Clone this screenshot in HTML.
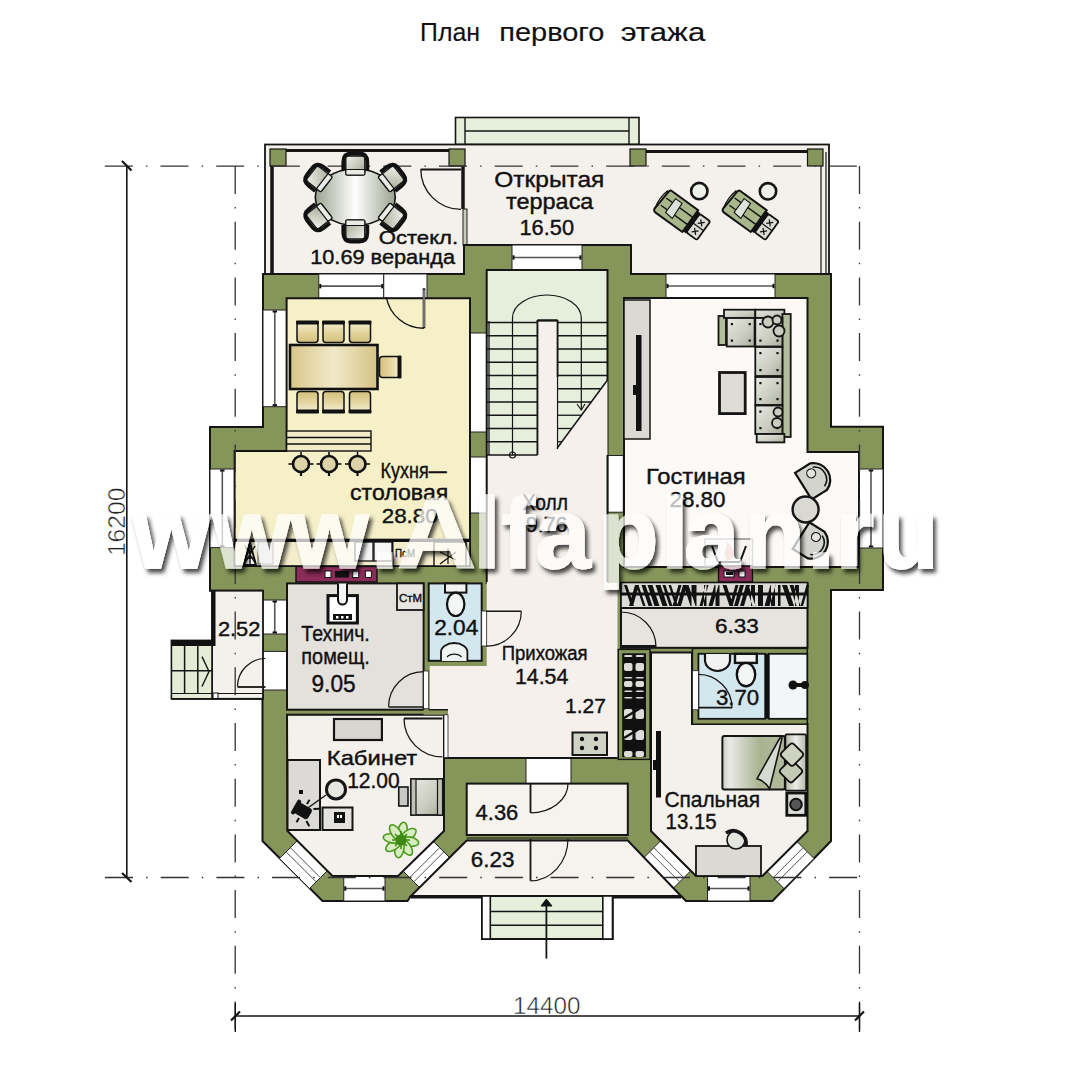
<!DOCTYPE html>
<html><head><meta charset="utf-8"><style>
html,body{margin:0;padding:0;background:#fff;overflow:hidden;}
svg{display:block;font-family:"Liberation Sans",sans-serif;}
</style></head><body>
<svg width="1080" height="1080" viewBox="0 0 1080 1080">
<rect width="1080" height="1080" fill="#fff"/>
<rect x="455.5" y="117.5" width="183.5" height="27.0" fill="#e6eedc" stroke="#151515" stroke-width="1.6" />
<line x1="465" y1="117.5" x2="465" y2="144.5" stroke="#151515" stroke-width="1.4" />
<line x1="629" y1="117.5" x2="629" y2="144.5" stroke="#151515" stroke-width="1.4" />
<line x1="465" y1="131" x2="629" y2="131" stroke="#151515" stroke-width="1.4" />
<rect x="265" y="144.5" width="564" height="129.5" fill="#f4f0eb" stroke="#151515" stroke-width="1.8" />
<line x1="286" y1="150.5" x2="449" y2="150.5" stroke="#151515" stroke-width="3" />
<line x1="272" y1="166" x2="272" y2="274" stroke="#151515" stroke-width="3.5" />
<line x1="463" y1="166" x2="463" y2="209" stroke="#151515" stroke-width="3.5" />
<rect x="463" y="209" width="4" height="36" fill="#c8ccbc" stroke="#222" stroke-width="1" />
<line x1="646" y1="151.5" x2="807.5" y2="151.5" stroke="#151515" stroke-width="3" />
<line x1="821" y1="152" x2="821" y2="274" stroke="#151515" stroke-width="1.2" />
<line x1="826" y1="152" x2="826" y2="274" stroke="#151515" stroke-width="1.2" />
<rect x="270" y="149" width="16" height="17" fill="#86955a" stroke="#151515" stroke-width="1.2" />
<rect x="449" y="149" width="16" height="17" fill="#86955a" stroke="#151515" stroke-width="1.2" />
<rect x="630" y="149" width="16" height="17" fill="#86955a" stroke="#151515" stroke-width="1.2" />
<rect x="807.5" y="149" width="15.5" height="17" fill="#86955a" stroke="#151515" stroke-width="1.2" />
<polygon points="263,274 464,274 464,245 631,245 631,274 831,274 831,426.7 883,426.7 883,590 831,590 831,841 772.5,901 686,901 681,896 411,896 407.5,901 322.5,901 262.5,841 262.5,699 262.5,590.7 210,590.7 210,427 263,427" fill="#86955a" stroke="#151515" stroke-width="2" stroke-linejoin="miter" />
<rect x="318.75" y="274" width="65.0" height="24.3" fill="#fff" stroke="#222" stroke-width="1" />
<line x1="319.75" y1="286.15" x2="382.75" y2="286.15" stroke="#555" stroke-width="1.6" />
<line x1="320.25" y1="283.95" x2="320.25" y2="288.34999999999997" stroke="#111" stroke-width="2" />
<line x1="382.25" y1="283.95" x2="382.25" y2="288.34999999999997" stroke="#111" stroke-width="2" />
<rect x="383.75" y="274" width="43.25" height="24.3" fill="#fff" stroke="#222" stroke-width="1" />
<rect x="263" y="310" width="23.6" height="96.7" fill="#fff" stroke="#222" stroke-width="1" />
<line x1="274.8" y1="311" x2="274.8" y2="405.7" stroke="#555" stroke-width="1.6" />
<line x1="272.6" y1="311.5" x2="277.0" y2="311.5" stroke="#111" stroke-width="2" />
<line x1="272.6" y1="405.2" x2="277.0" y2="405.2" stroke="#111" stroke-width="2" />
<rect x="210" y="469" width="24.6" height="78.6" fill="#fff" stroke="#222" stroke-width="1" />
<line x1="222.3" y1="470" x2="222.3" y2="546.6" stroke="#555" stroke-width="1.6" />
<line x1="220.10000000000002" y1="470.5" x2="224.5" y2="470.5" stroke="#111" stroke-width="2" />
<line x1="220.10000000000002" y1="546.1" x2="224.5" y2="546.1" stroke="#111" stroke-width="2" />
<rect x="512" y="245" width="70" height="25" fill="#fff" stroke="#222" stroke-width="1" />
<line x1="513" y1="257.5" x2="581" y2="257.5" stroke="#555" stroke-width="1.6" />
<line x1="513.5" y1="255.3" x2="513.5" y2="259.7" stroke="#111" stroke-width="2" />
<line x1="580.5" y1="255.3" x2="580.5" y2="259.7" stroke="#111" stroke-width="2" />
<rect x="666" y="274" width="109" height="24" fill="#fff" stroke="#222" stroke-width="1" />
<line x1="667" y1="286.0" x2="774" y2="286.0" stroke="#555" stroke-width="1.6" />
<line x1="667.5" y1="283.8" x2="667.5" y2="288.2" stroke="#111" stroke-width="2" />
<line x1="773.5" y1="283.8" x2="773.5" y2="288.2" stroke="#111" stroke-width="2" />
<rect x="859" y="469" width="24" height="79" fill="#fff" stroke="#222" stroke-width="1" />
<line x1="871.0" y1="470" x2="871.0" y2="547" stroke="#555" stroke-width="1.6" />
<line x1="868.8" y1="470.5" x2="873.2" y2="470.5" stroke="#111" stroke-width="2" />
<line x1="868.8" y1="546.5" x2="873.2" y2="546.5" stroke="#111" stroke-width="2" />
<rect x="470" y="333" width="16.7" height="99" fill="#fff" stroke="#222" stroke-width="1" />
<rect x="470" y="457" width="16.7" height="56" fill="#fff" stroke="#222" stroke-width="1" />
<rect x="607.8" y="455.5" width="15.5" height="56.7" fill="#fff" stroke="#222" stroke-width="1" />
<rect x="262.5" y="600" width="24.5" height="34" fill="#fff" stroke="#222" stroke-width="1" />
<line x1="274.75" y1="601" x2="274.75" y2="633" stroke="#555" stroke-width="1.6" />
<line x1="272.55" y1="601.5" x2="276.95" y2="601.5" stroke="#111" stroke-width="2" />
<line x1="272.55" y1="632.5" x2="276.95" y2="632.5" stroke="#111" stroke-width="2" />
<rect x="262.5" y="651.4" width="24.5" height="38.6" fill="#fff" stroke="#222" stroke-width="1" />
<rect x="526" y="757.5" width="45" height="26.1" fill="#fff" stroke="#222" stroke-width="1" />
<polygon points="297,841 327,871 309.5,888.5 279.5,858.5" fill="#fff" stroke="#222" stroke-width="1" stroke-linejoin="miter" />
<line x1="290.35" y1="847.65" x2="320.35" y2="877.65" stroke="#555" stroke-width="1" />
<line x1="286.15" y1="851.85" x2="316.15" y2="881.85" stroke="#555" stroke-width="1" />
<polygon points="433,841 403,871 420.5,888.5 450.5,858.5" fill="#fff" stroke="#222" stroke-width="1" stroke-linejoin="miter" />
<line x1="439.65" y1="847.65" x2="409.65" y2="877.65" stroke="#555" stroke-width="1" />
<line x1="443.85" y1="851.85" x2="413.85" y2="881.85" stroke="#555" stroke-width="1" />
<rect x="343.75" y="876" width="41.25" height="25" fill="#fff" stroke="#222" stroke-width="1" />
<line x1="344.75" y1="888.5" x2="384" y2="888.5" stroke="#555" stroke-width="1.6" />
<line x1="345.25" y1="886.3" x2="345.25" y2="890.7" stroke="#111" stroke-width="2" />
<line x1="383.5" y1="886.3" x2="383.5" y2="890.7" stroke="#111" stroke-width="2" />
<polygon points="660.5,841 690.5,871 673,888.5 643,858.5" fill="#fff" stroke="#222" stroke-width="1" stroke-linejoin="miter" />
<line x1="653.85" y1="847.65" x2="683.85" y2="877.65" stroke="#555" stroke-width="1" />
<line x1="649.65" y1="851.85" x2="679.65" y2="881.85" stroke="#555" stroke-width="1" />
<polygon points="796.5,841 766.5,871 784,888.5 814,858.5" fill="#fff" stroke="#222" stroke-width="1" stroke-linejoin="miter" />
<line x1="803.15" y1="847.65" x2="773.15" y2="877.65" stroke="#555" stroke-width="1" />
<line x1="807.35" y1="851.85" x2="777.35" y2="881.85" stroke="#555" stroke-width="1" />
<rect x="707.5" y="876" width="42.5" height="25" fill="#fff" stroke="#222" stroke-width="1" />
<line x1="708.5" y1="888.5" x2="749" y2="888.5" stroke="#555" stroke-width="1.6" />
<line x1="709.0" y1="886.3" x2="709.0" y2="890.7" stroke="#111" stroke-width="2" />
<line x1="748.5" y1="886.3" x2="748.5" y2="890.7" stroke="#111" stroke-width="2" />
<polygon points="286.6,298.3 470,298.3 470,566 234.6,566 234.6,451 286.6,451" fill="#f6f0c9" stroke="#151515" stroke-width="2" stroke-linejoin="miter" />
<rect x="486.7" y="270" width="120.8" height="314" fill="#f5f0eb" />
<rect x="486.7" y="270" width="120.8" height="185" fill="#e6eedc" />
<polyline points="486.7,584 486.7,270 607.5,270 607.5,584" fill="none" stroke="#151515" stroke-width="2" />
<polygon points="624,298 807.5,298 807.5,452 859,452 859,567 624,567" fill="#fcf9f6" stroke="#151515" stroke-width="2" stroke-linejoin="miter" />
<rect x="624" y="300" width="26" height="139" fill="#dcd9d4" stroke="#151515" stroke-width="1.5" />
<rect x="287" y="583.4" width="136.6" height="126.3" fill="#e4e1dd" stroke="#151515" stroke-width="2" />
<rect x="428.7" y="583.4" width="53.0" height="77.4" fill="#d3e7ee" stroke="#151515" stroke-width="2" />
<polygon points="429.7,666 486.7,666 486.7,582 607.5,582 607.5,583 617.5,583 617.5,757.5 448,757.5 448,714.8 429.7,714.8" fill="#f5f0eb" />
<line x1="444" y1="758" x2="617.5" y2="758" stroke="#151515" stroke-width="2.2" />
<rect x="621" y="583" width="186.5" height="64.8" fill="#e7e4e0" stroke="#151515" stroke-width="2" />
<rect x="696" y="653" width="69" height="66" fill="#d3e7ee" stroke="#151515" stroke-width="2" />
<rect x="769" y="653" width="37" height="66" fill="#eef4f6" stroke="#151515" stroke-width="2" />
<polygon points="651,652.5 692,652.5 692,724 807.5,724 807.5,831 762.5,876 696,876 651,831" fill="#f4f0eb" stroke="#151515" stroke-width="2" stroke-linejoin="miter" />
<polygon points="287,714.8 444,714.8 444,831 398,876 332.5,876 287.5,831" fill="#f4f0eb" stroke="#151515" stroke-width="2" stroke-linejoin="miter" />
<rect x="466.7" y="783.6" width="161.1" height="51.4" fill="#f6f2ee" stroke="#151515" stroke-width="2" />
<polygon points="466.7,840.5 627.8,840.5 681,896 411,896" fill="#f6f2ee" stroke="#151515" stroke-width="2" stroke-linejoin="miter" />
<rect x="212" y="590.7" width="51" height="108.1" fill="#f4f0eb" stroke="#151515" stroke-width="1.8" />
<rect x="482" y="896" width="130.5" height="43" fill="#e6eedc" stroke="#151515" stroke-width="2" />
<line x1="104.8" y1="166.2" x2="860" y2="166.2" stroke="#333" stroke-width="1.3" stroke-dasharray="28 13.1 1.5 13.1"/>
<line x1="105" y1="877.5" x2="860" y2="877.5" stroke="#333" stroke-width="1.3" stroke-dasharray="28 13.1 1.5 13.1"/>
<line x1="235.2" y1="166" x2="235.2" y2="1032" stroke="#333" stroke-width="1.3" stroke-dasharray="28 13.1 1.5 13.1"/>
<line x1="859.5" y1="166" x2="859.5" y2="1032" stroke="#333" stroke-width="1.3" stroke-dasharray="28 13.1 1.5 13.1"/>
<line x1="126.8" y1="166" x2="126.8" y2="877.5" stroke="#151515" stroke-width="1.6" />
<line x1="122" y1="161" x2="131.5" y2="170.5" stroke="#151515" stroke-width="2.2" />
<line x1="122" y1="873" x2="131.5" y2="882" stroke="#151515" stroke-width="2.2" />
<line x1="235.3" y1="1003" x2="235.3" y2="1032" stroke="#151515" stroke-width="1.4" />
<line x1="859.5" y1="1003" x2="859.5" y2="1032" stroke="#151515" stroke-width="1.4" />
<line x1="235" y1="1016" x2="859.5" y2="1016" stroke="#151515" stroke-width="1.6" />
<line x1="231" y1="1020.5" x2="240" y2="1011.5" stroke="#151515" stroke-width="2.2" />
<line x1="855" y1="1020.5" x2="864" y2="1011.5" stroke="#151515" stroke-width="2.2" />
<defs>
<radialGradient id="gOval" cx="50%" cy="45%" r="60%"><stop offset="0" stop-color="#ffffff"/><stop offset="0.55" stop-color="#e3e7da"/><stop offset="1" stop-color="#9fa88f"/></radialGradient>
<linearGradient id="gChair" x1="0" y1="0" x2="1" y2="1"><stop offset="0" stop-color="#f2f3ee"/><stop offset="1" stop-color="#9ea48e"/></linearGradient>
<linearGradient id="gTan" x1="0" y1="0" x2="0" y2="1"><stop offset="0" stop-color="#f4edd0"/><stop offset="0.5" stop-color="#e2d49c"/><stop offset="1" stop-color="#d4c07c"/></linearGradient>
<linearGradient id="gTanH" x1="0" y1="0" x2="1" y2="0"><stop offset="0" stop-color="#d9c68a"/><stop offset="0.5" stop-color="#f1e9c9"/><stop offset="1" stop-color="#d5c283"/></linearGradient>
<linearGradient id="gSofa" x1="0" y1="0" x2="1" y2="0"><stop offset="0" stop-color="#a9ae99"/><stop offset="0.5" stop-color="#e1e3dc"/><stop offset="1" stop-color="#b9bdab"/></linearGradient>
<linearGradient id="gGreen" x1="0" y1="0" x2="1" y2="0"><stop offset="0" stop-color="#8c9a70"/><stop offset="0.5" stop-color="#b8c2a0"/><stop offset="1" stop-color="#8a986c"/></linearGradient>
<linearGradient id="gBed" x1="0" y1="0" x2="1" y2="0"><stop offset="0" stop-color="#9aa584"/><stop offset="0.45" stop-color="#e9ece2"/><stop offset="1" stop-color="#a6b08f"/></linearGradient>
</defs>
<defs><linearGradient id="gOvalH" x1="0" y1="0" x2="1" y2="0"><stop offset="0" stop-color="#9aa38e"/><stop offset="0.5" stop-color="#ffffff"/><stop offset="1" stop-color="#9aa38e"/></linearGradient></defs>
<ellipse cx="355.3" cy="197.2" rx="40" ry="28.2" fill="url(#gOvalH)" stroke="#111" stroke-width="1.6"/>
<g transform="translate(355.3,166) rotate(0)"><path d="M-12,4 L-12,-4 Q-12,-12.5 -4,-12.5 L4,-12.5 Q12,-12.5 12,-4 L12,4" fill="none" stroke="#111" stroke-width="3.8"/><rect x="-9.5" y="-10" width="19" height="19" rx="2.5" fill="url(#gChair)" stroke="#111" stroke-width="1.4"/><rect x="-9.5" y="3.5" width="19" height="5.5" rx="1" fill="#e9ebe4" stroke="#111" stroke-width="1.2"/></g>
<g transform="translate(355.3,229) rotate(180)"><path d="M-12,4 L-12,-4 Q-12,-12.5 -4,-12.5 L4,-12.5 Q12,-12.5 12,-4 L12,4" fill="none" stroke="#111" stroke-width="3.8"/><rect x="-9.5" y="-10" width="19" height="19" rx="2.5" fill="url(#gChair)" stroke="#111" stroke-width="1.4"/><rect x="-9.5" y="3.5" width="19" height="5.5" rx="1" fill="#e9ebe4" stroke="#111" stroke-width="1.2"/></g>
<g transform="translate(319.5,179) rotate(-52)"><path d="M-12,4 L-12,-4 Q-12,-12.5 -4,-12.5 L4,-12.5 Q12,-12.5 12,-4 L12,4" fill="none" stroke="#111" stroke-width="3.8"/><rect x="-9.5" y="-10" width="19" height="19" rx="2.5" fill="url(#gChair)" stroke="#111" stroke-width="1.4"/><rect x="-9.5" y="3.5" width="19" height="5.5" rx="1" fill="#e9ebe4" stroke="#111" stroke-width="1.2"/></g>
<g transform="translate(391,179) rotate(52)"><path d="M-12,4 L-12,-4 Q-12,-12.5 -4,-12.5 L4,-12.5 Q12,-12.5 12,-4 L12,4" fill="none" stroke="#111" stroke-width="3.8"/><rect x="-9.5" y="-10" width="19" height="19" rx="2.5" fill="url(#gChair)" stroke="#111" stroke-width="1.4"/><rect x="-9.5" y="3.5" width="19" height="5.5" rx="1" fill="#e9ebe4" stroke="#111" stroke-width="1.2"/></g>
<g transform="translate(319.5,216) rotate(-128)"><path d="M-12,4 L-12,-4 Q-12,-12.5 -4,-12.5 L4,-12.5 Q12,-12.5 12,-4 L12,4" fill="none" stroke="#111" stroke-width="3.8"/><rect x="-9.5" y="-10" width="19" height="19" rx="2.5" fill="url(#gChair)" stroke="#111" stroke-width="1.4"/><rect x="-9.5" y="3.5" width="19" height="5.5" rx="1" fill="#e9ebe4" stroke="#111" stroke-width="1.2"/></g>
<g transform="translate(391,216) rotate(128)"><path d="M-12,4 L-12,-4 Q-12,-12.5 -4,-12.5 L4,-12.5 Q12,-12.5 12,-4 L12,4" fill="none" stroke="#111" stroke-width="3.8"/><rect x="-9.5" y="-10" width="19" height="19" rx="2.5" fill="url(#gChair)" stroke="#111" stroke-width="1.4"/><rect x="-9.5" y="3.5" width="19" height="5.5" rx="1" fill="#e9ebe4" stroke="#111" stroke-width="1.2"/></g>
<path d="M420.8,169.2 A40.2,40.2 0 0 0 461,209.4" fill="none" stroke="#151515" stroke-width="1.3" />
<line x1="420.8" y1="169.5" x2="461" y2="169.5" stroke="#151515" stroke-width="2" />
<path d="M386.3,297 A37.5,38 0 0 0 423.8,328.2" fill="none" stroke="#151515" stroke-width="1.4" />
<line x1="424" y1="288.3" x2="424" y2="328.2" stroke="#151515" stroke-width="2.6" />
<line x1="424" y1="290" x2="424" y2="327" stroke="#fff" stroke-width="0.8" />
<g transform="translate(680,213) rotate(36)"><path d="M-20,-13 L13,-13 L13,14 L-20,14 Q-24,14 -23,9 L-22,-8 Q-22,-13 -20,-13Z" fill="#a8b68a" stroke="#111" stroke-width="2"/><line x1="-20" y1="-4" x2="13" y2="-4" stroke="#111" stroke-width="1.4"/><line x1="-20" y1="5" x2="13" y2="5" stroke="#111" stroke-width="1.4"/><path d="M-12,-9 L-4,-9 L-3,9 L-12,8Z" fill="#dfe2da" stroke="#111" stroke-width="1.1"/><path d="M-23,-11 Q-26,0 -23,11" fill="none" stroke="#111" stroke-width="1.2"/><rect x="13" y="-12" width="3.5" height="25" fill="#111"/><rect x="16.5" y="-11" width="13" height="23" rx="2" fill="#dcdcd6" stroke="#111" stroke-width="1.8"/><line x1="16.5" y1="0.5" x2="29.5" y2="0.5" stroke="#111" stroke-width="1.2"/><path d="M20.5,-7 l5,5 m0,-5 l-5,5 M20.5,3.5 l5,5 m0,-5 l-5,5" stroke="#111" stroke-width="1.2"/></g>
<g transform="translate(748.5,213) rotate(36)"><path d="M-20,-13 L13,-13 L13,14 L-20,14 Q-24,14 -23,9 L-22,-8 Q-22,-13 -20,-13Z" fill="#a8b68a" stroke="#111" stroke-width="2"/><line x1="-20" y1="-4" x2="13" y2="-4" stroke="#111" stroke-width="1.4"/><line x1="-20" y1="5" x2="13" y2="5" stroke="#111" stroke-width="1.4"/><path d="M-12,-9 L-4,-9 L-3,9 L-12,8Z" fill="#dfe2da" stroke="#111" stroke-width="1.1"/><path d="M-23,-11 Q-26,0 -23,11" fill="none" stroke="#111" stroke-width="1.2"/><rect x="13" y="-12" width="3.5" height="25" fill="#111"/><rect x="16.5" y="-11" width="13" height="23" rx="2" fill="#dcdcd6" stroke="#111" stroke-width="1.8"/><line x1="16.5" y1="0.5" x2="29.5" y2="0.5" stroke="#111" stroke-width="1.2"/><path d="M20.5,-7 l5,5 m0,-5 l-5,5 M20.5,3.5 l5,5 m0,-5 l-5,5" stroke="#111" stroke-width="1.2"/></g>
<circle cx="699.3" cy="191.1" r="8.2" fill="#eef0ea" stroke="#151515" stroke-width="2.6" />
<circle cx="768" cy="191.3" r="8.2" fill="#eef0ea" stroke="#151515" stroke-width="2.6" />
<g transform="translate(307.5,332.5) rotate(0)"><rect x="-10.5" y="-10" width="21" height="20" rx="3" fill="url(#gTan)" stroke="#111" stroke-width="1.5"/><rect x="-11.5" y="-12" width="23" height="4" rx="1" fill="#111"/></g>
<g transform="translate(307.5,401.5) rotate(180)"><rect x="-10.5" y="-10" width="21" height="20" rx="3" fill="url(#gTan)" stroke="#111" stroke-width="1.5"/><rect x="-11.5" y="-12" width="23" height="4" rx="1" fill="#111"/></g>
<g transform="translate(333.5,332.5) rotate(0)"><rect x="-10.5" y="-10" width="21" height="20" rx="3" fill="url(#gTan)" stroke="#111" stroke-width="1.5"/><rect x="-11.5" y="-12" width="23" height="4" rx="1" fill="#111"/></g>
<g transform="translate(333.5,401.5) rotate(180)"><rect x="-10.5" y="-10" width="21" height="20" rx="3" fill="url(#gTan)" stroke="#111" stroke-width="1.5"/><rect x="-11.5" y="-12" width="23" height="4" rx="1" fill="#111"/></g>
<g transform="translate(360,332.5) rotate(0)"><rect x="-10.5" y="-10" width="21" height="20" rx="3" fill="url(#gTan)" stroke="#111" stroke-width="1.5"/><rect x="-11.5" y="-12" width="23" height="4" rx="1" fill="#111"/></g>
<g transform="translate(360,401.5) rotate(180)"><rect x="-10.5" y="-10" width="21" height="20" rx="3" fill="url(#gTan)" stroke="#111" stroke-width="1.5"/><rect x="-11.5" y="-12" width="23" height="4" rx="1" fill="#111"/></g>
<g transform="translate(389.5,367) rotate(90)"><rect x="-10.5" y="-10" width="21" height="20" rx="3" fill="url(#gTan)" stroke="#111" stroke-width="1.5"/><rect x="-11.5" y="-12" width="23" height="4" rx="1" fill="#111"/></g>
<rect x="290" y="345" width="87.5" height="44" fill="url(#gTanH)" stroke="#111" stroke-width="2.6" />
<rect x="286.6" y="431" width="84.4" height="20" fill="#f2ecc8" stroke="#111" stroke-width="1.4" />
<line x1="286.6" y1="437.5" x2="371" y2="437.5" stroke="#111" stroke-width="1.3" />
<line x1="286.6" y1="444" x2="371" y2="444" stroke="#111" stroke-width="1.3" />
<circle cx="301" cy="464" r="8" fill="#ddd3a6" stroke="#111" stroke-width="2.6" />
<line x1="288.5" y1="464" x2="293" y2="464" stroke="#111" stroke-width="1.6" />
<line x1="309" y1="464" x2="313.5" y2="464" stroke="#111" stroke-width="1.6" />
<line x1="301" y1="472" x2="301" y2="476" stroke="#111" stroke-width="2.2" />
<line x1="301" y1="452" x2="301" y2="456" stroke="#111" stroke-width="1.6" />
<circle cx="329" cy="464" r="8" fill="#ddd3a6" stroke="#111" stroke-width="2.6" />
<line x1="316.5" y1="464" x2="321" y2="464" stroke="#111" stroke-width="1.6" />
<line x1="337" y1="464" x2="341.5" y2="464" stroke="#111" stroke-width="1.6" />
<line x1="329" y1="472" x2="329" y2="476" stroke="#111" stroke-width="2.2" />
<line x1="329" y1="452" x2="329" y2="456" stroke="#111" stroke-width="1.6" />
<circle cx="357.5" cy="464" r="8" fill="#ddd3a6" stroke="#111" stroke-width="2.6" />
<line x1="345.0" y1="464" x2="349.5" y2="464" stroke="#111" stroke-width="1.6" />
<line x1="365.5" y1="464" x2="370.0" y2="464" stroke="#111" stroke-width="1.6" />
<line x1="357.5" y1="472" x2="357.5" y2="476" stroke="#111" stroke-width="2.2" />
<line x1="357.5" y1="452" x2="357.5" y2="456" stroke="#111" stroke-width="1.6" />
<rect x="234.6" y="539.5" width="235.4" height="26.5" fill="#f3edcc" stroke="#111" stroke-width="1.6" />
<line x1="234.6" y1="541" x2="470" y2="541" stroke="#111" stroke-width="2.2" />
<path d="M244,565 L250,543 L256,565 Z" fill="#fff" stroke="#111" stroke-width="2" />
<path d="M246,558 L254,558 M247.5,551 L252.5,551 M245,563 L255,546 M255,563 L245,546 M250,543 L250,565" fill="none" stroke="#111" stroke-width="1.4" />
<rect x="258" y="542" width="15" height="22" fill="#d6d6d6" stroke="#555" stroke-width="1" />
<rect x="355" y="542" width="18" height="19" fill="#f6f6f6" stroke="#111" stroke-width="1.3" />
<rect x="374" y="542" width="18" height="19" fill="#f6f6f6" stroke="#111" stroke-width="1.3" />
<rect x="392" y="542" width="1.5" height="24" fill="#111" />
<text x="395" y="557" font-size="11" textLength="20" lengthAdjust="spacingAndGlyphs" fill="#111" stroke="#111" stroke-width="0.4" font-weight="normal" >ПсМ</text>
<rect x="434" y="542" width="32" height="24" fill="#f3edcc" stroke="#111" stroke-width="1.4" />
<path d="M440,552 l16,8 m-8,-12 l0,16 m-8,0 l16,-12" fill="none" stroke="#111" stroke-width="1.2" />
<rect x="296" y="566.5" width="81" height="15.5" fill="#8b2c58" stroke="#111" stroke-width="1.4" />
<rect x="325" y="571" width="6" height="6.5" fill="#fff" stroke="#111" stroke-width="1" />
<rect x="352.7" y="571" width="6.0" height="6.5" fill="#fff" stroke="#111" stroke-width="1" />
<rect x="365.4" y="571" width="6.0" height="6.5" fill="#fff" stroke="#111" stroke-width="1" />
<rect x="335" y="571" width="14" height="6.5" fill="#111" />
<rect x="487" y="321" width="50.5" height="134" fill="none" />
<line x1="487" y1="322.5" x2="537.5" y2="322.5" stroke="#151515" stroke-width="1.3" />
<line x1="487" y1="335.75" x2="537.5" y2="335.75" stroke="#151515" stroke-width="1.3" />
<line x1="487" y1="349.0" x2="537.5" y2="349.0" stroke="#151515" stroke-width="1.3" />
<line x1="487" y1="362.25" x2="537.5" y2="362.25" stroke="#151515" stroke-width="1.3" />
<line x1="487" y1="375.5" x2="537.5" y2="375.5" stroke="#151515" stroke-width="1.3" />
<line x1="487" y1="388.75" x2="537.5" y2="388.75" stroke="#151515" stroke-width="1.3" />
<line x1="487" y1="402.0" x2="537.5" y2="402.0" stroke="#151515" stroke-width="1.3" />
<line x1="487" y1="415.25" x2="537.5" y2="415.25" stroke="#151515" stroke-width="1.3" />
<line x1="487" y1="428.5" x2="537.5" y2="428.5" stroke="#151515" stroke-width="1.3" />
<line x1="487" y1="441.75" x2="537.5" y2="441.75" stroke="#151515" stroke-width="1.3" />
<line x1="487" y1="455.0" x2="537.5" y2="455.0" stroke="#151515" stroke-width="1.3" />
<line x1="489" y1="321" x2="489" y2="455" stroke="#151515" stroke-width="1.3" />
<line x1="537.5" y1="320" x2="537.5" y2="455" stroke="#151515" stroke-width="1.6" />
<line x1="557.5" y1="320" x2="557.5" y2="377" stroke="#151515" stroke-width="1.6" />
<line x1="537.5" y1="320.5" x2="557.5" y2="320.5" stroke="#151515" stroke-width="2" />
<line x1="557.5" y1="322.5" x2="607.5" y2="322.5" stroke="#151515" stroke-width="1.3" />
<line x1="557.5" y1="335.75" x2="607.5" y2="335.75" stroke="#151515" stroke-width="1.3" />
<line x1="557.5" y1="349.0" x2="607.5" y2="349.0" stroke="#151515" stroke-width="1.3" />
<line x1="557.5" y1="362.25" x2="607.5" y2="362.25" stroke="#151515" stroke-width="1.3" />
<line x1="557.5" y1="375.5" x2="607.5" y2="375.5" stroke="#151515" stroke-width="1.3" />
<polygon points="607.5,380 556.5,449 556.5,455 607.5,455" fill="#f5f0eb" />
<polygon points="557.5,380 607.5,380 556.5,449" fill="#e6eedc" />
<line x1="557.5" y1="388.75" x2="601.0326086956521" y2="388.75" stroke="#151515" stroke-width="1.3" />
<line x1="557.5" y1="402.0" x2="591.2391304347826" y2="402.0" stroke="#151515" stroke-width="1.3" />
<line x1="557.5" y1="415.25" x2="581.445652173913" y2="415.25" stroke="#151515" stroke-width="1.3" />
<line x1="557.5" y1="428.5" x2="571.6521739130435" y2="428.5" stroke="#151515" stroke-width="1.3" />
<line x1="557.5" y1="441.75" x2="561.8586956521739" y2="441.75" stroke="#151515" stroke-width="1.3" />
<line x1="607.5" y1="380" x2="556.5" y2="449" stroke="#151515" stroke-width="1.5" />
<line x1="557.5" y1="377" x2="557.5" y2="449" stroke="#151515" stroke-width="1.3" />
<path d="M512.5,455 L512.5,318 A34.4,23 0 0 1 581.3,318 L581.3,410" fill="none" stroke="#151515" stroke-width="1.2" />
<circle cx="512.5" cy="455" r="3" fill="none" stroke="#151515" stroke-width="1.2" />
<path d="M577,404 L581.3,410 L585,404" fill="none" stroke="#151515" stroke-width="1.2" />
<defs>
<linearGradient id="gCush" x1="0" y1="0" x2="1" y2="1"><stop offset="0" stop-color="#e9eae4"/><stop offset="0.6" stop-color="#c9ccc0"/><stop offset="1" stop-color="#a8ad9a"/></linearGradient>
</defs>
<rect x="538.3" y="321.5" width="18.4" height="133.5" fill="#f5f0eb" />
<line x1="537.5" y1="320" x2="537.5" y2="455" stroke="#151515" stroke-width="1.6" />
<line x1="557.5" y1="320" x2="557.5" y2="377" stroke="#151515" stroke-width="1.6" />
<line x1="537.5" y1="320.5" x2="557.5" y2="320.5" stroke="#151515" stroke-width="2" />
<rect x="718.5" y="316" width="7.5" height="29" fill="#b3bc9c" stroke="#151515" stroke-width="1.8" />
<rect x="724" y="309.7" width="31.3" height="8.3" fill="url(#gCush)" stroke="#151515" stroke-width="1.8" />
<rect x="755.3" y="309.7" width="29.1" height="8.3" fill="url(#gCush)" stroke="#151515" stroke-width="1.8" />
<rect x="782.4" y="314" width="8.3" height="123" fill="#b3bc9c" stroke="#151515" stroke-width="1.8" />
<rect x="726.8" y="318" width="27.8" height="28.5" fill="url(#gCush)" stroke="#151515" stroke-width="1.8" />
<rect x="730.8" y="323" width="2.2" height="2.2" fill="#111" />
<rect x="748.6" y="323" width="2.2" height="2.2" fill="#111" />
<rect x="730.8" y="339.5" width="2.2" height="2.2" fill="#111" />
<rect x="748.6" y="339.5" width="2.2" height="2.2" fill="#111" />
<rect x="755.3" y="318" width="27.1" height="28.5" fill="url(#gCush)" stroke="#151515" stroke-width="1.8" />
<rect x="759.3" y="323" width="2.2" height="2.2" fill="#111" />
<rect x="776.4" y="323" width="2.2" height="2.2" fill="#111" />
<rect x="759.3" y="339.5" width="2.2" height="2.2" fill="#111" />
<rect x="776.4" y="339.5" width="2.2" height="2.2" fill="#111" />
<rect x="755.3" y="347" width="27.1" height="29" fill="url(#gCush)" stroke="#151515" stroke-width="1.8" />
<rect x="759.3" y="352" width="2.2" height="2.2" fill="#111" />
<rect x="776.4" y="352" width="2.2" height="2.2" fill="#111" />
<rect x="759.3" y="369" width="2.2" height="2.2" fill="#111" />
<rect x="776.4" y="369" width="2.2" height="2.2" fill="#111" />
<rect x="755.3" y="377" width="27.1" height="28" fill="url(#gCush)" stroke="#151515" stroke-width="1.8" />
<rect x="759.3" y="382" width="2.2" height="2.2" fill="#111" />
<rect x="776.4" y="382" width="2.2" height="2.2" fill="#111" />
<rect x="759.3" y="398" width="2.2" height="2.2" fill="#111" />
<rect x="776.4" y="398" width="2.2" height="2.2" fill="#111" />
<rect x="755.3" y="405.5" width="27.1" height="28.5" fill="url(#gCush)" stroke="#151515" stroke-width="1.8" />
<rect x="759.3" y="410.5" width="2.2" height="2.2" fill="#111" />
<rect x="776.4" y="410.5" width="2.2" height="2.2" fill="#111" />
<rect x="759.3" y="427" width="2.2" height="2.2" fill="#111" />
<rect x="776.4" y="427" width="2.2" height="2.2" fill="#111" />
<rect x="756.7" y="434" width="27.7" height="8.4" fill="url(#gCush)" stroke="#151515" stroke-width="1.8" />
<circle cx="768" cy="322" r="5.5" fill="#c8cbbd" stroke="#151515" stroke-width="1.8" />
<circle cx="777" cy="320" r="4.5" fill="#c8cbbd" stroke="#151515" stroke-width="1.8" />
<circle cx="779" cy="331" r="5.5" fill="#c8cbbd" stroke="#151515" stroke-width="1.8" />
<circle cx="778" cy="412" r="4.5" fill="#c8cbbd" stroke="#151515" stroke-width="1.8" />
<circle cx="777" cy="423" r="5" fill="#c8cbbd" stroke="#151515" stroke-width="1.8" />
<rect x="719.5" y="372.5" width="25.7" height="41.1" fill="#dedcd7" stroke="#151515" stroke-width="2.8" />
<rect x="636" y="335" width="5.5" height="96" fill="#111" />
<rect x="633" y="385" width="3" height="10" fill="#111" />
<g transform="translate(815.5,476) rotate(-32) scale(1.12)"><path d="M-14,-12 L2,-12 A15,15 0 0 1 2,16 L-14,16 Z" fill="#d4d4cf" stroke="#111" stroke-width="2"/><path d="M2,-8 A11,11 0 0 1 2,12" fill="none" stroke="#111" stroke-width="1.4"/><circle cx="-2" cy="-4" r="4" fill="#e4e4e0" stroke="#111" stroke-width="1"/></g>
<g transform="translate(815.5,542) rotate(32) scale(1.12)"><path d="M-14,-12 L2,-12 A15,15 0 0 1 2,16 L-14,16 Z" fill="#d4d4cf" stroke="#111" stroke-width="2"/><path d="M2,-8 A11,11 0 0 1 2,12" fill="none" stroke="#111" stroke-width="1.4"/><circle cx="-2" cy="-4" r="4" fill="#e4e4e0" stroke="#111" stroke-width="1"/></g>
<circle cx="805.6" cy="509.5" r="13" fill="#d9d8d2" stroke="#151515" stroke-width="2.4" />
<rect x="705" y="539" width="47.5" height="27" fill="#f8f6f3" stroke="#888" stroke-width="1.4" />
<path d="M712,546 L718,562 M746,546 L740,562 M718,562 L740,562" fill="none" stroke="#111" stroke-width="2" />
<path d="M727,560 C722,552 728,548 726,541 C733,546 736,553 731,560 Z" fill="#f2a8a8" stroke="none" stroke-width="0" />
<rect x="718.5" y="566" width="34.0" height="16" fill="#8b2c58" stroke="#111" stroke-width="1.4" />
<rect x="724" y="571" width="10" height="6" fill="#fff" stroke="#111" stroke-width="1" />
<rect x="739" y="571" width="6" height="6" fill="#fff" stroke="#111" stroke-width="1" />
<rect x="726" y="572" width="7" height="3" fill="#111" />
<rect x="621" y="582.5" width="186.5" height="25.5" fill="#dcdad6" stroke="#111" stroke-width="1.6" />
<path d="M624.0,585 L627.0,585 L634.0,606 L631.0,606Z M635.0,585 L639.0,585 L633.0,606 L629.0,606Z M636.0,585 L638.5,585 L645.5,606 L643.0,606Z M641.5,585 L645.5,585 L652.5,606 L648.5,606Z M647.5,585 L652.5,585 L659.5,606 L654.5,606Z M655.5,585 L660.5,585 L667.5,606 L662.5,606Z M662.5,585 L665.5,585 L672.5,606 L669.5,606Z M668.5,585 L671.0,585 L678.0,606 L675.5,606Z M678.5,585 L681.5,585 L675.5,606 L672.5,606Z M683.0,585 L687.0,585 L681.0,606 L677.0,606Z M683.5,585 L688.5,585 L695.5,606 L690.5,606Z M691.5,585 L691.5,606 L696.5,606 L696.5,585Z M705.5,585 L708.5,585 L702.5,606 L699.5,606Z M704.0,585 L704.0,606 L706.5,606 L706.5,585Z M714.5,585 L718.5,585 L712.5,606 L708.5,606Z M715.5,585 L715.5,606 L719.5,606 L719.5,585Z M722.5,585 L726.5,585 L733.5,606 L729.5,606Z M735.5,585 L738.5,585 L732.5,606 L729.5,606Z M740.0,585 L744.0,585 L738.0,606 L734.0,606Z M746.0,585 L750.0,585 L744.0,606 L740.0,606Z M745.5,585 L748.5,585 L755.5,606 L752.5,606Z M751.0,585 L751.0,606 L755.0,606 L755.0,585Z M758.0,585 L758.0,606 L763.0,606 L763.0,585Z M770.5,585 L775.5,585 L769.5,606 L764.5,606Z M771.0,585 L771.0,606 L775.0,606 L775.0,585Z M778.0,585 L778.0,606 L780.5,606 L780.5,585Z M782.0,585 L787.0,585 L794.0,606 L789.0,606Z M789.5,585 L793.5,585 L800.5,606 L796.5,606Z M795.0,585 L795.0,606 L799.0,606 L799.0,585Z M806.5,585 L809.0,585 L803.0,606 L800.5,606Z" fill="#111" stroke="none" stroke-width="0" />
<rect x="621" y="592.5" width="186.5" height="3.0" fill="#111" />
<line x1="621" y1="608" x2="807.5" y2="608" stroke="#151515" stroke-width="2" />
<path d="M621,612 A35,35 0 0 1 656,647" fill="none" stroke="#151515" stroke-width="1.2" />
<line x1="621" y1="646" x2="656" y2="646" stroke="#151515" stroke-width="2" />
<rect x="618.3" y="649.4" width="31.7" height="110.0" fill="#86955a" stroke="#111" stroke-width="1.4" />
<rect x="622.2" y="653.3" width="23.8" height="103.9" fill="#111" />
<rect x="624" y="655" width="8.5" height="2" fill="#dedcd8" rx="2"/>
<rect x="635.5" y="655" width="8.5" height="2" fill="#dedcd8" rx="2"/>
<rect x="624" y="663" width="8.5" height="8" fill="#dedcd8" rx="2"/>
<rect x="635.5" y="663" width="8.5" height="8" fill="#dedcd8" rx="2"/>
<rect x="624" y="677" width="8.5" height="1.5" fill="#dedcd8" rx="2"/>
<rect x="635.5" y="677" width="8.5" height="1.5" fill="#dedcd8" rx="2"/>
<rect x="624" y="681" width="8.5" height="6" fill="#dedcd8" rx="2"/>
<rect x="635.5" y="681" width="8.5" height="6" fill="#dedcd8" rx="2"/>
<rect x="624" y="690.5" width="8.5" height="1.5" fill="#dedcd8" rx="2"/>
<rect x="635.5" y="690.5" width="8.5" height="1.5" fill="#dedcd8" rx="2"/>
<rect x="624" y="697" width="8.5" height="1.5" fill="#dedcd8" rx="2"/>
<rect x="635.5" y="697" width="8.5" height="1.5" fill="#dedcd8" rx="2"/>
<rect x="624" y="709" width="8.5" height="10" fill="#dedcd8" rx="2"/>
<rect x="635.5" y="709" width="8.5" height="10" fill="#dedcd8" rx="2"/>
<rect x="624" y="730" width="8.5" height="10" fill="#dedcd8" rx="2"/>
<rect x="635.5" y="730" width="8.5" height="10" fill="#dedcd8" rx="2"/>
<rect x="624" y="751" width="8.5" height="6" fill="#dedcd8" rx="2"/>
<rect x="635.5" y="751" width="8.5" height="6" fill="#dedcd8" rx="2"/>
<path d="M624,718 L644,706 M624,738 L644,726" fill="none" stroke="#111" stroke-width="2.4" />
<rect x="572.5" y="732.5" width="34.5" height="22.5" fill="#cfd3c4" stroke="#151515" stroke-width="2" />
<circle cx="582" cy="739" r="2.2" fill="#111" stroke="none" stroke-width="0" />
<circle cx="596" cy="739" r="2.2" fill="#111" stroke="none" stroke-width="0" />
<circle cx="582" cy="748" r="2.2" fill="#111" stroke="none" stroke-width="0" />
<circle cx="596" cy="748" r="2.2" fill="#111" stroke="none" stroke-width="0" />
<rect x="445" y="583.4" width="21.4" height="9.2" fill="#f2f2f2" stroke="#151515" stroke-width="2" />
<ellipse cx="455.7" cy="604.3" rx="8.7" ry="11.7" fill="#f4f6f6" stroke="#111" stroke-width="2.2"/>
<path d="M441,661 L441,652 A13.2,9 0 0 1 467.4,652 L467.4,661" fill="#f0f2f2" stroke="#151515" stroke-width="1.8" />
<path d="M447,657 A8.5,6 0 0 1 461.5,657" fill="none" stroke="#151515" stroke-width="1.2" />
<rect x="481.7" y="611" width="5.0" height="35" fill="#fff" stroke="#222" stroke-width="0.8" />
<path d="M486.3,646.2 A35,35 0 0 0 521.3,611.2" fill="none" stroke="#151515" stroke-width="1.2" />
<line x1="486.3" y1="611.2" x2="521.3" y2="611.2" stroke="#151515" stroke-width="1.4" />
<rect x="397" y="583.4" width="26.6" height="26.6" fill="#e8e6e3" stroke="#151515" stroke-width="1.8" />
<text x="399" y="602" font-size="11" textLength="23" lengthAdjust="spacingAndGlyphs" fill="#111" stroke="#111" stroke-width="0.4" font-weight="normal" >СтМ</text>
<rect x="328" y="595.6" width="29.4" height="27.4" fill="#fff" stroke="#111" stroke-width="3" />
<rect x="333" y="614" width="19" height="6" fill="#111" />
<rect x="336" y="616" width="2.5" height="2.5" fill="#fff" />
<rect x="341" y="616" width="2.5" height="2.5" fill="#fff" />
<rect x="346" y="616" width="2.5" height="2.5" fill="#fff" />
<path d="M338,583.4 L338,600 A4.5,4.5 0 0 0 347,600 L347,583.4" fill="#f4f4f4" stroke="#111" stroke-width="2" />
<rect x="423.6" y="671" width="5.1" height="37.7" fill="#fff" stroke="#222" stroke-width="0.8" />
<path d="M388.6,706.7 A35,35 0 0 1 423.6,671.7" fill="none" stroke="#151515" stroke-width="1.2" />
<line x1="388.6" y1="707" x2="423.6" y2="707" stroke="#151515" stroke-width="1.6" />
<path d="M237.5,686.5 A28,28 0 0 1 265.5,658.5" fill="none" stroke="#151515" stroke-width="1.2" />
<line x1="237.5" y1="687" x2="265.5" y2="687" stroke="#151515" stroke-width="1.8" />
<rect x="211.5" y="590.7" width="4.0" height="55.3" fill="#111" />
<rect x="171.4" y="640.4" width="40.6" height="58.4" fill="#e4ecd6" stroke="#151515" stroke-width="1.6" />
<rect x="171.4" y="640.4" width="40.6" height="5.6" fill="#111" />
<line x1="184.6" y1="646" x2="184.6" y2="693" stroke="#151515" stroke-width="1.5" />
<line x1="197.8" y1="646" x2="197.8" y2="693" stroke="#151515" stroke-width="1.5" />
<line x1="171.4" y1="670.7" x2="212" y2="670.7" stroke="#151515" stroke-width="1.5" />
<line x1="171.4" y1="693.5" x2="263" y2="693.5" stroke="#151515" stroke-width="1.2" />
<line x1="171.4" y1="698.8" x2="263" y2="698.8" stroke="#151515" stroke-width="1.8" />
<path d="M202,656.6 L209,671.5 L202,686.5" fill="none" stroke="#151515" stroke-width="1.4" />
<rect x="213" y="693" width="5" height="5.5" fill="#fff" stroke="#111" stroke-width="1" />
<rect x="423.6" y="709.7" width="24.4" height="5.1" fill="#86955a" />
<line x1="428.7" y1="709.7" x2="448" y2="709.7" stroke="#151515" stroke-width="1.4" />
<rect x="334" y="719" width="47.9" height="21" fill="#d9d6d2" stroke="#151515" stroke-width="2.2" />
<rect x="287.5" y="760" width="32.5" height="70" fill="#dcdad6" stroke="#151515" stroke-width="2" />
<g transform="translate(303,811) rotate(30)"><rect x="-8" y="-6" width="16" height="12" rx="3" fill="#111"/><rect x="-10" y="-8" width="4" height="16" rx="1.5" fill="#111"/><path d="M8,-7 l5,-3 M8,7 l5,3 M0,8 l0,5 M0,-8 l0,-5" stroke="#111" stroke-width="2"/></g>
<rect x="299" y="790" width="4" height="4" fill="#111" />
<circle cx="336" cy="789.4" r="9.5" fill="#e6e8e0" stroke="#151515" stroke-width="3" />
<line x1="326" y1="795" x2="305" y2="810" stroke="#151515" stroke-width="1.5" />
<rect x="322.5" y="807.5" width="30.0" height="22.5" fill="#e4e2de" stroke="#151515" stroke-width="2" />
<rect x="334" y="812" width="11" height="11" fill="#111" />
<rect x="337" y="815" width="2" height="3" fill="#fff" />
<rect x="340" y="815" width="2" height="3" fill="#fff" />
<rect x="398.75" y="787" width="9.25" height="19" fill="#c8c8c4" stroke="#151515" stroke-width="1.6" />
<rect x="411" y="779" width="31.5" height="36" fill="url(#gCush)" stroke="#151515" stroke-width="1.8" />
<rect x="411" y="779" width="5" height="36" fill="#c0c2b8" stroke="#151515" stroke-width="1.2" />
<rect x="437.5" y="779" width="5.0" height="36" fill="#c0c2b8" stroke="#151515" stroke-width="1.2" />
<ellipse cx="401" cy="831" rx="4.5" ry="9" fill="#d7ecc0" stroke="#4c9a1c" stroke-width="1.6" transform="rotate(10 401 840)"/>
<ellipse cx="401" cy="831" rx="4.5" ry="9" fill="#d7ecc0" stroke="#4c9a1c" stroke-width="1.6" transform="rotate(55 401 840)"/>
<ellipse cx="401" cy="831" rx="4.5" ry="9" fill="#d7ecc0" stroke="#4c9a1c" stroke-width="1.6" transform="rotate(100 401 840)"/>
<ellipse cx="401" cy="831" rx="4.5" ry="9" fill="#d7ecc0" stroke="#4c9a1c" stroke-width="1.6" transform="rotate(145 401 840)"/>
<ellipse cx="401" cy="831" rx="4.5" ry="9" fill="#d7ecc0" stroke="#4c9a1c" stroke-width="1.6" transform="rotate(190 401 840)"/>
<ellipse cx="401" cy="831" rx="4.5" ry="9" fill="#d7ecc0" stroke="#4c9a1c" stroke-width="1.6" transform="rotate(235 401 840)"/>
<ellipse cx="401" cy="831" rx="4.5" ry="9" fill="#d7ecc0" stroke="#4c9a1c" stroke-width="1.6" transform="rotate(280 401 840)"/>
<ellipse cx="401" cy="831" rx="4.5" ry="9" fill="#d7ecc0" stroke="#4c9a1c" stroke-width="1.6" transform="rotate(325 401 840)"/>
<circle cx="401" cy="840" r="5" fill="#3d8a12" stroke="#2f7a0a" stroke-width="1" />
<path d="M392,840 L410,840 M401,831 L401,849 M395,834 L407,846 M407,834 L395,846" fill="none" stroke="#3d8a12" stroke-width="1.6" />
<rect x="444" y="714.8" width="4" height="42.7" fill="#fff" stroke="#222" stroke-width="0.8" />
<path d="M404,718.5 A38.4,38.4 0 0 0 442.4,756.9" fill="none" stroke="#151515" stroke-width="1.3" />
<line x1="404" y1="718.5" x2="442.4" y2="718.5" stroke="#151515" stroke-width="1.8" />
<rect x="692.4" y="648.4" width="114.9" height="75.8" fill="#86955a" stroke="#151515" stroke-width="1.5" />
<rect x="698.4" y="653.8" width="66.8" height="65.0" fill="#d3e7ee" stroke="#151515" stroke-width="1.8" />
<rect x="768.8" y="653.8" width="38.5" height="65.0" fill="#f2f6f8" stroke="#151515" stroke-width="1.8" />
<rect x="765.2" y="653.8" width="3.6" height="65.0" fill="#111" />
<rect x="692.4" y="670.7" width="6.0" height="39.1" fill="#fff" stroke="#222" stroke-width="0.8" />
<path d="M698.4,674.3 A33.7,33.7 0 0 1 732,708" fill="none" stroke="#151515" stroke-width="1.2" />
<line x1="698.4" y1="707.6" x2="732" y2="707.6" stroke="#151515" stroke-width="1.8" />
<path d="M705,654 L705,660 A12.5,11 0 0 0 730,660 L730,654" fill="#f2f2f2" stroke="#151515" stroke-width="2.2" />
<rect x="735" y="653.8" width="21.8" height="9.1" fill="#f4f4f4" stroke="#151515" stroke-width="2.4" />
<ellipse cx="746" cy="674.6" rx="9.2" ry="11.7" fill="#f4f6f6" stroke="#111" stroke-width="2.4"/>
<circle cx="793" cy="685" r="4.5" fill="#111" stroke="none" stroke-width="0" />
<rect x="797" y="683" width="7" height="4" fill="#111" />
<circle cx="805" cy="685" r="4" fill="#111" stroke="none" stroke-width="0" />
<rect x="656" y="731" width="5" height="66.5" fill="#111" />
<rect x="653" y="760" width="3" height="10" fill="#111" />
<defs><linearGradient id="gBed2" x1="0" y1="0" x2="1" y2="0"><stop offset="0" stop-color="#c9ccc3"/><stop offset="0.12" stop-color="#e9e9e6"/><stop offset="0.6" stop-color="#a9b390"/><stop offset="1" stop-color="#b3bb9c"/></linearGradient><linearGradient id="gHead" x1="0" y1="0" x2="1" y2="0"><stop offset="0" stop-color="#b3b8aa"/><stop offset="0.5" stop-color="#eceee8"/><stop offset="1" stop-color="#b3b8aa"/></linearGradient></defs>
<rect x="722.4" y="736.1" width="62.5" height="53.3" fill="url(#gBed2)" stroke="#151515" stroke-width="2" rx="2"/>
<rect x="785.4" y="734.3" width="20.8" height="56.4" fill="url(#gHead)" stroke="#151515" stroke-width="1.8" rx="1.5"/>
<path d="M757.1,778.7 L779.8,738 L782,738 L769.6,788.9 Q765,781 757.1,778.7 Z" fill="#d7dad1" stroke="#151515" stroke-width="1.6" />
<g transform="translate(791,771.3) rotate(45)"><rect x="-8.7" y="-8.7" width="17.4" height="17.4" rx="3" fill="#c4cab4" stroke="#111" stroke-width="1.8"/></g>
<g transform="translate(792,754.6) rotate(45)"><rect x="-8.7" y="-8.7" width="17.4" height="17.4" rx="3" fill="#cfd4c2" stroke="#111" stroke-width="1.8"/></g>
<rect x="786.8" y="793" width="19.0" height="22.3" fill="#dcdcd8" stroke="#111" stroke-width="2.8" />
<circle cx="796" cy="804.5" r="5.8" fill="#555" stroke="#111" stroke-width="2" />
<rect x="696" y="846" width="65" height="30" fill="#dcd9d5" stroke="#151515" stroke-width="1.8" />
<circle cx="736" cy="840" r="9" fill="#e4e6de" stroke="#151515" stroke-width="1.6" />
<path d="M726,833 A13,13 0 0 1 746,846" fill="none" stroke="#151515" stroke-width="3.5" />
<path d="M530.5,812.8 A37.5,29 0 0 0 568,783.6" fill="none" stroke="#151515" stroke-width="1.2" />
<line x1="530.5" y1="784" x2="530.5" y2="812.8" stroke="#151515" stroke-width="1.8" />
<path d="M530.5,880.8 A37.5,42 0 0 0 568,839" fill="none" stroke="#151515" stroke-width="1.2" />
<line x1="530.5" y1="839" x2="530.5" y2="880.8" stroke="#151515" stroke-width="1.8" />
<line x1="466.7" y1="838" x2="627.8" y2="838" stroke="#151515" stroke-width="1.2" />
<line x1="411" y1="897" x2="482" y2="897" stroke="#151515" stroke-width="3.2" />
<line x1="612.5" y1="897" x2="681" y2="897" stroke="#151515" stroke-width="3.2" />
<rect x="482" y="896" width="130.5" height="43" fill="#e6eedc" stroke="#151515" stroke-width="2" />
<rect x="482" y="896" width="8.3" height="43" fill="#fff" stroke="#151515" stroke-width="1.6" />
<rect x="602.8" y="896" width="9.7" height="43" fill="#fff" stroke="#151515" stroke-width="1.6" />
<line x1="490" y1="911.4" x2="603" y2="911.4" stroke="#151515" stroke-width="1.5" />
<line x1="490" y1="925.3" x2="603" y2="925.3" stroke="#151515" stroke-width="1.5" />
<line x1="546.4" y1="900" x2="546.4" y2="958.6" stroke="#151515" stroke-width="1.8" />
<path d="M541,906 L546.4,899 L552,906 Z" fill="#111" stroke="#151515" stroke-width="1" />
<text x="420.1" y="41" font-size="26" textLength="59.9" lengthAdjust="spacingAndGlyphs" fill="#111" stroke="#111" stroke-width="0.15" font-weight="normal" >План</text>
<text x="499.3" y="41" font-size="26" textLength="105.1" lengthAdjust="spacingAndGlyphs" fill="#111" stroke="#111" stroke-width="0.15" font-weight="normal" >первого</text>
<text x="620.7" y="41" font-size="26" textLength="84.5" lengthAdjust="spacingAndGlyphs" fill="#111" stroke="#111" stroke-width="0.15" font-weight="normal" >этажа</text>
<text x="494.3" y="187" font-size="22.5" textLength="110.1" lengthAdjust="spacingAndGlyphs" fill="#111" stroke="#111" stroke-width="0.4" font-weight="normal" >Открытая</text>
<text x="506" y="209" font-size="22" textLength="87.4" lengthAdjust="spacingAndGlyphs" fill="#111" stroke="#111" stroke-width="0.4" font-weight="normal" >терраса</text>
<text x="519.5" y="235" font-size="22" textLength="54.5" lengthAdjust="spacingAndGlyphs" fill="#111" stroke="#111" stroke-width="0.4" font-weight="normal" >16.50</text>
<text x="378.7" y="244" font-size="18.5" textLength="79.5" lengthAdjust="spacingAndGlyphs" fill="#111" stroke="#111" stroke-width="0.4" font-weight="normal" >Остекл.</text>
<text x="310.2" y="263.7" font-size="19.5" textLength="144.8" lengthAdjust="spacingAndGlyphs" fill="#111" stroke="#111" stroke-width="0.4" font-weight="normal" >10.69 веранда</text>
<text x="380.6" y="478.3" font-size="22" textLength="66.1" lengthAdjust="spacingAndGlyphs" fill="#111" stroke="#111" stroke-width="0.4" font-weight="normal" >Кухня—</text>
<text x="350" y="500" font-size="22" textLength="98.3" lengthAdjust="spacingAndGlyphs" fill="#111" stroke="#111" stroke-width="0.4" font-weight="normal" >столовая</text>
<text x="381.7" y="522.8" font-size="21" textLength="56.1" lengthAdjust="spacingAndGlyphs" fill="#111" stroke="#111" stroke-width="0.4" font-weight="normal" >28.80</text>
<text x="522.5" y="509.6" font-size="21.5" textLength="45.4" lengthAdjust="spacingAndGlyphs" fill="#111" stroke="#111" stroke-width="0.4" font-weight="normal" >Холл</text>
<text x="525.8" y="532" font-size="22" textLength="41.7" lengthAdjust="spacingAndGlyphs" fill="#111" stroke="#111" stroke-width="0.4" font-weight="normal" >9.76</text>
<text x="646" y="483.9" font-size="22.5" textLength="99.6" lengthAdjust="spacingAndGlyphs" fill="#111" stroke="#111" stroke-width="0.4" font-weight="normal" >Гостиная</text>
<text x="669.4" y="506.7" font-size="22" textLength="56.2" lengthAdjust="spacingAndGlyphs" fill="#111" stroke="#111" stroke-width="0.4" font-weight="normal" >28.80</text>
<text x="217.9" y="636" font-size="20.6" textLength="42.5" lengthAdjust="spacingAndGlyphs" fill="#111" stroke="#111" stroke-width="0.4" font-weight="normal" >2.52</text>
<text x="301.3" y="640.7" font-size="22" textLength="68.5" lengthAdjust="spacingAndGlyphs" fill="#111" stroke="#111" stroke-width="0.4" font-weight="normal" >Технич.</text>
<text x="301.3" y="664.3" font-size="22" textLength="68.5" lengthAdjust="spacingAndGlyphs" fill="#111" stroke="#111" stroke-width="0.4" font-weight="normal" >помещ.</text>
<text x="311.5" y="691.9" font-size="23" textLength="44.1" lengthAdjust="spacingAndGlyphs" fill="#111" stroke="#111" stroke-width="0.4" font-weight="normal" >9.05</text>
<text x="434.2" y="635" font-size="22" textLength="44.1" lengthAdjust="spacingAndGlyphs" fill="#111" stroke="#111" stroke-width="0.4" font-weight="normal" >2.04</text>
<text x="501.7" y="660" font-size="19.5" textLength="85.8" lengthAdjust="spacingAndGlyphs" fill="#111" stroke="#111" stroke-width="0.4" font-weight="normal" >Прихожая</text>
<text x="515" y="684.2" font-size="22" textLength="53.3" lengthAdjust="spacingAndGlyphs" fill="#111" stroke="#111" stroke-width="0.4" font-weight="normal" >14.54</text>
<text x="565" y="713.3" font-size="20.5" textLength="40.8" lengthAdjust="spacingAndGlyphs" fill="#111" stroke="#111" stroke-width="0.4" font-weight="normal" >1.27</text>
<text x="715" y="632.5" font-size="20" textLength="43.8" lengthAdjust="spacingAndGlyphs" fill="#111" stroke="#111" stroke-width="0.4" font-weight="normal" >6.33</text>
<text x="715.9" y="705" font-size="22" textLength="43.3" lengthAdjust="spacingAndGlyphs" fill="#111" stroke="#111" stroke-width="0.4" font-weight="normal" >3.70</text>
<text x="326.8" y="765.3" font-size="19.8" textLength="90.4" lengthAdjust="spacingAndGlyphs" fill="#111" stroke="#111" stroke-width="0.4" font-weight="normal" >Кабинет</text>
<text x="347.2" y="787.6" font-size="21.2" textLength="52.5" lengthAdjust="spacingAndGlyphs" fill="#111" stroke="#111" stroke-width="0.4" font-weight="normal" >12.00</text>
<text x="475.6" y="819.7" font-size="22.5" textLength="42.7" lengthAdjust="spacingAndGlyphs" fill="#111" stroke="#111" stroke-width="0.4" font-weight="normal" >4.36</text>
<text x="470.7" y="867.4" font-size="22.7" textLength="43.7" lengthAdjust="spacingAndGlyphs" fill="#111" stroke="#111" stroke-width="0.4" font-weight="normal" >6.23</text>
<text x="664.4" y="806.7" font-size="22" textLength="95.6" lengthAdjust="spacingAndGlyphs" fill="#111" stroke="#111" stroke-width="0.4" font-weight="normal" >Спальная</text>
<text x="665.6" y="829.4" font-size="22" textLength="51.1" lengthAdjust="spacingAndGlyphs" fill="#111" stroke="#111" stroke-width="0.4" font-weight="normal" >13.15</text>
<text x="513" y="1014.4" font-size="23" fill="#222" stroke="#fff" stroke-width="0.5" textLength="67.5" lengthAdjust="spacingAndGlyphs">14400</text>
<text x="0" y="0" font-size="23" fill="#222" stroke="#fff" stroke-width="0.5" textLength="68.5" lengthAdjust="spacingAndGlyphs" transform="translate(125.3,556.1) rotate(-90)">16200</text>
<filter id="wm" x="-5%" y="-30%" width="110%" height="160%">
<feGaussianBlur in="SourceAlpha" stdDeviation="2.1" result="b"/>
<feOffset in="b" dx="3.2" dy="3.8" result="o"/>
<feComposite in="o" in2="SourceAlpha" operator="out" result="s"/>
<feFlood flood-color="#000" flood-opacity="0.72"/>
<feComposite in2="s" operator="in" result="sh"/>
<feComponentTransfer in="SourceGraphic" result="tx"><feFuncA type="linear" slope="0.72"/></feComponentTransfer>
<feMerge><feMergeNode in="sh"/><feMergeNode in="tx"/></feMerge>
</filter>
<g filter="url(#wm)" font-size="100" font-weight="bold" fill="#fff" stroke="#fff" stroke-width="1.6">
<text x="132.6 213 290.7 370.8" y="567.8">www.</text>
<text x="397" y="567.8" textLength="79" lengthAdjust="spacingAndGlyphs">A</text>
<text x="473 501.5 535 597.5 660.7 684 744 807 835 877.8" y="567.8">lfaplan.ru</text>
</g>
</svg></body></html>
